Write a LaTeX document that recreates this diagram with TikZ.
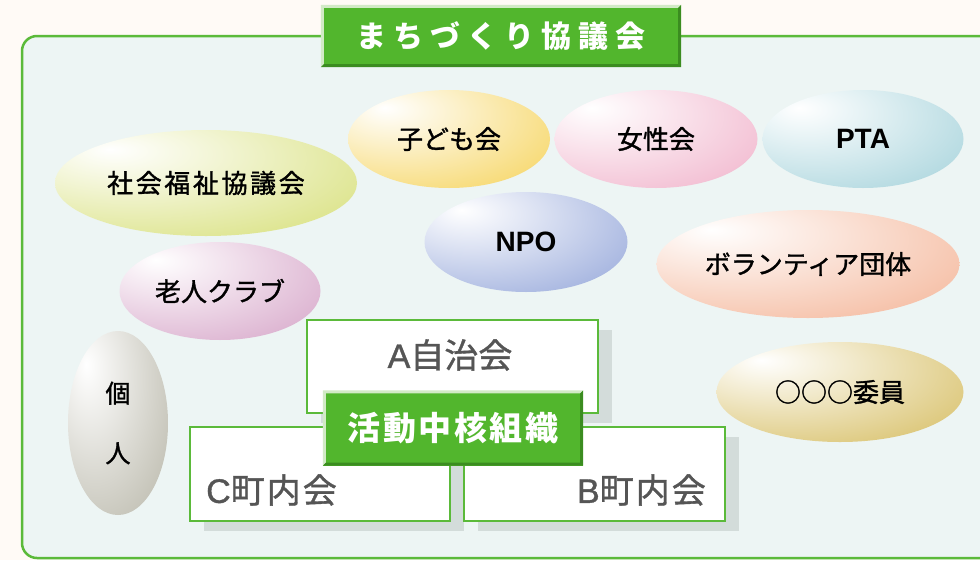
\documentclass[tikz,border=0pt]{standalone}
\usepackage{fontspec}
\setmainfont{Noto Sans CJK JP}
\newfontfamily\latinsans{Liberation Sans}
\usetikzlibrary{shapes.geometric,shadows,calc}
\definecolor{creambg}{HTML}{FFFAF6}
\definecolor{framebg}{HTML}{EDF5F4}
\definecolor{framegreen}{HTML}{5BBA3A}
\definecolor{labelgreen}{HTML}{52B62D}
\definecolor{bevlight}{HTML}{D2EAC6}
\definecolor{bevdark}{HTML}{3B8C20}
\definecolor{shadowgray}{HTML}{D3DCDA}
\definecolor{rtextgray}{HTML}{555555}
\definecolor{cShakai}{HTML}{D0DA62}
\definecolor{cKodomo}{HTML}{F4CC40}
\definecolor{cJosei}{HTML}{EEA6C2}
\definecolor{cPTA}{HTML}{96CBD5}
\definecolor{cNPO}{HTML}{8499D4}
\definecolor{cVol}{HTML}{F2A886}
\definecolor{cRojin}{HTML}{CF96BF}
\definecolor{cIin}{HTML}{CFB247}
\definecolor{cKojin}{HTML}{ADAB9B}
\colorlet{eggcol}{white}
\pgfdeclareradialshading[eggcol]{eggshade}{\pgfpoint{-16bp}{16bp}}{%
  color(0bp)=(white);
  color(16bp)=(eggcol!28!white);
  color(38bp)=(eggcol!68!white);
  color(60bp)=(eggcol);
  color(100bp)=(eggcol)}
\newcommand\eggfont{\fontsize{26}{30}\selectfont\addfontfeatures{FakeBold=1.3}}
\newcommand\rectfont{\fontsize{34}{38}\selectfont\addfontfeatures{FakeBold=1.1}}
\newcommand\latinlet[1]{{\latinsans\addfontfeatures{FakeBold=1.1}#1}}
\begin{document}
\begin{tikzpicture}[x=1pt,y=-1pt,
  egg/.style={ellipse, inner sep=0pt, /utils/exec={\colorlet{eggcol}{#1}},
    shading=eggshade, font=\eggfont, text=black},
  rbox/.style={draw=framegreen, line width=2.5pt, fill=white, inner sep=0pt,
    drop shadow={shadow xshift=14pt, shadow yshift=-10pt, fill=shadowgray, opacity=1}},
  rtext/.style={inner sep=0pt, font=\rectfont, text=rtextgray},
  glabel/.style={fill=labelgreen, inner sep=0pt, text=white}]
\useasboundingbox (0,0) rectangle (980,560);
\fill[creambg] (0,0) rectangle (980,560);
\begin{scope}
\clip (0,0) rectangle (980,560);
\draw[framegreen, line width=2.5pt, fill=framebg, rounded corners=15pt] (22,36) rectangle (1010,558);
\end{scope}

% title label
\node[glabel, minimum width=360pt, minimum height=62pt] (title) at (501,36)
  {\fontsize{30}{34}\selectfont\bfseries\addfontfeatures{LetterSpace=23}まちづくり協議会};
\fill[bevlight] (title.south west) -- (title.north west) -- (title.north east)
  -- ([shift={(-3,3)}]title.north east) -- ([shift={(3,3)}]title.north west)
  -- ([shift={(3,-3)}]title.south west) -- cycle;
\fill[bevdark] (title.south west) -- (title.south east) -- (title.north east)
  -- ([shift={(-3,3)}]title.north east) -- ([shift={(-3,-3)}]title.south east)
  -- ([shift={(3,-3)}]title.south west) -- cycle;

% ellipses
\node[egg=cShakai, minimum width=302pt, minimum height=106pt] (shakai) at (206,183)
  {\addfontfeatures{LetterSpace=10}社会福祉協議会};
\node[egg=cKodomo, minimum width=202pt, minimum height=98pt] (kodomo) at (449,139) {子ども会};
\node[egg=cJosei, minimum width=203pt, minimum height=98pt] (josei) at (656,139) {女性会};
\node[egg=cPTA, minimum width=201pt, minimum height=98pt] (pta) at (863,139)
  {\latinsans\fontsize{28}{32}\selectfont\bfseries PTA};
\node[egg=cNPO, minimum width=203pt, minimum height=100pt] (npo) at (526,242)
  {\latinsans\fontsize{28}{32}\selectfont\bfseries NPO};
\node[egg=cVol, minimum width=303pt, minimum height=108pt] (vol) at (808,264) {ボランティア団体};
\node[egg=cRojin, minimum width=201pt, minimum height=98pt] (rojin) at (220,291) {老人クラブ};
\node[egg=cIin, minimum width=247pt, minimum height=100pt] (iin) at (840,392) {○○○委員};
\node[egg=cKojin, minimum width=100pt, minimum height=184pt, align=center,
  font=\fontsize{25}{60}\selectfont\addfontfeatures{FakeBold=1.3}] (kojin) at (118,423) {個\\人};

% boxes
\node[rbox, minimum width=291pt, minimum height=93pt] (abox) at (452.5,366.5) {};
\node[rbox, minimum width=260pt, minimum height=94pt] (cbox) at (320,474) {};
\node[rbox, minimum width=261pt, minimum height=94pt] (bbox) at (594.5,474) {};
\node[rtext] (atext) at (450,355) {\latinlet{A}自治会};
\node[rtext, anchor=west] (ctext) at (206,490)
  {\latinlet{C}\addfontfeatures{LetterSpace=6}町内会};
\node[rtext, anchor=east] (btext) at (706,490)
  {\latinlet{B}\addfontfeatures{LetterSpace=6}町内会};

% core label
\node[glabel, minimum width=260pt, minimum height=75pt] (core) at (453,428)
  {\fontsize{33}{36}\selectfont\bfseries\addfontfeatures{LetterSpace=8}活動中核組織};
\fill[bevlight] (core.south west) -- (core.north west) -- (core.north east)
  -- ([shift={(-3,3)}]core.north east) -- ([shift={(3,3)}]core.north west)
  -- ([shift={(3,-3)}]core.south west) -- cycle;
\fill[bevdark] (core.south west) -- (core.south east) -- (core.north east)
  -- ([shift={(-3,3)}]core.north east) -- ([shift={(-3,-3)}]core.south east)
  -- ([shift={(3,-3)}]core.south west) -- cycle;
\end{tikzpicture}
\end{document}
